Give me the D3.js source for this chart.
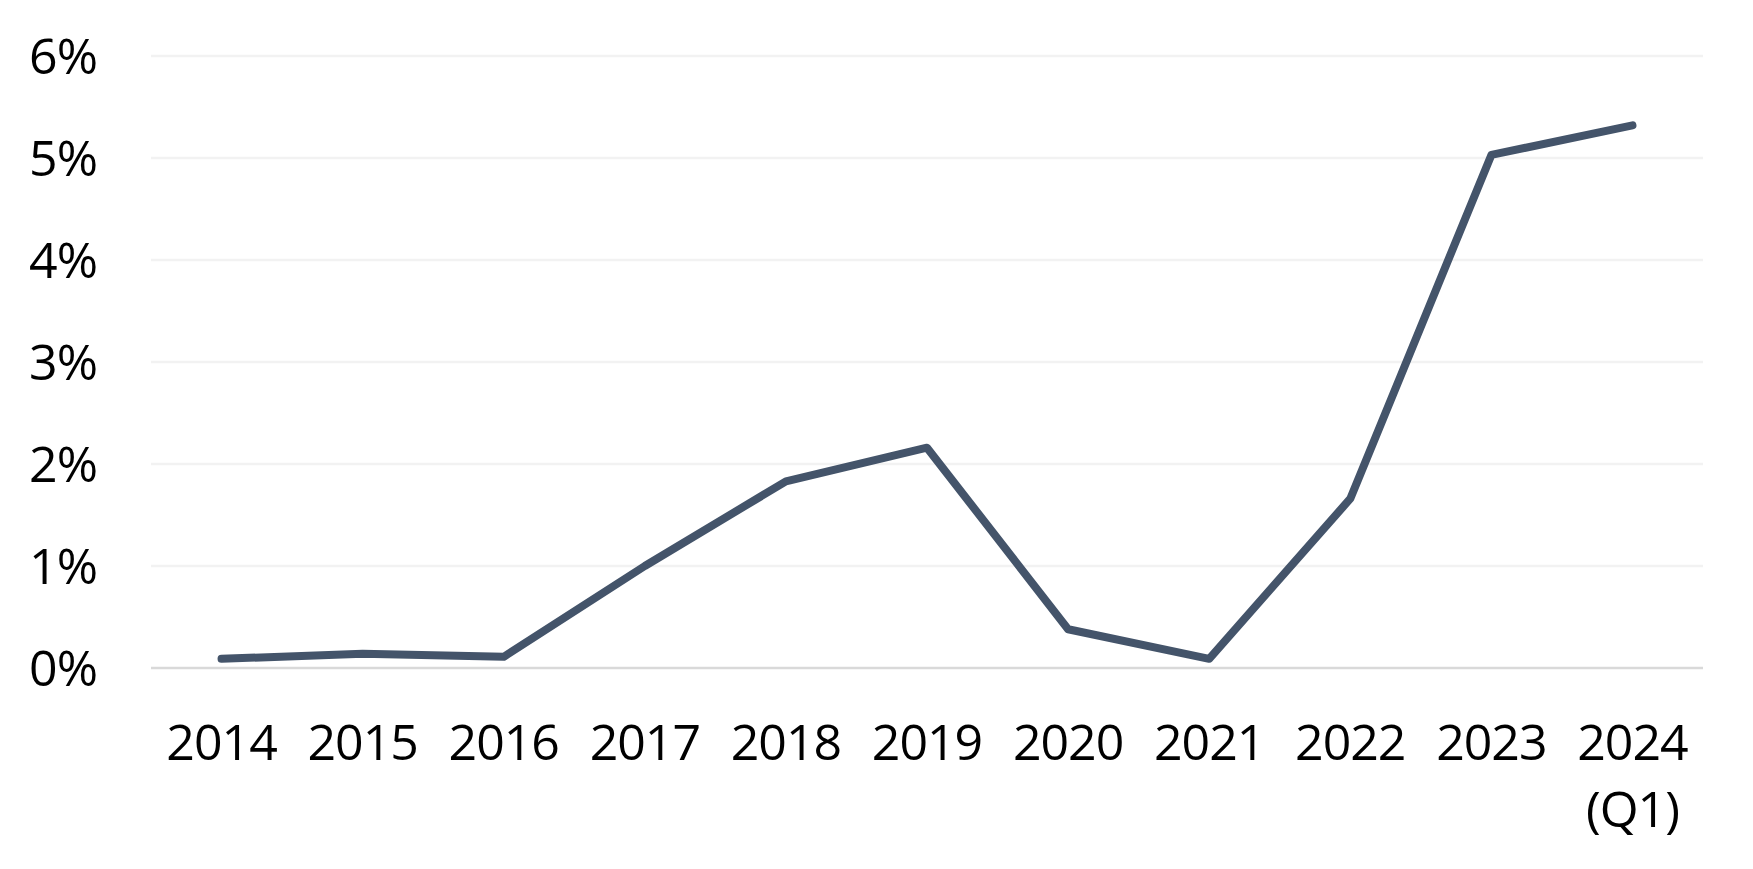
<!DOCTYPE html>
<html>
<head>
<meta charset="utf-8">
<script src="https://cdn.jsdelivr.net/npm/d3@7"></script>
<style>
    body { margin: 0; background: #ffffff; }
</style>
</head>
<body>
<div id="chart"></div>
<script>
// Data
var years = ["2014", "2015", "2016", "2017", "2018", "2019", "2020", "2021", "2022", "2023", "2024"];
var yearNotes = ["", "", "", "", "", "", "", "", "", "", "(Q1)"];
var shares = [0.09, 0.14, 0.11, 1.0, 1.83, 2.16, 0.38, 0.09, 1.66, 5.03, 5.32];
var yTicks = [0, 1, 2, 3, 4, 5, 6];

function init() {
    var w = 1753;
    var h = 869;
    var left = 151, right = 1703, top = 56, bottom = 668;

    var xScale = d3.scaleBand()
                    .domain(years)
                    .range([left, right])
                    .padding(0);

    var yScale = d3.scaleLinear()
                    .domain([0, 6])
                    .range([bottom, top]);

    var svg = d3.select("#chart")
                .append("svg")
                .attr("width", w)
                .attr("height", h)
                .style("font-family", "'Open Sans', 'Noto Sans', sans-serif");

    // Gridlines
    svg.append("g")
        .selectAll("line")
        .data(yTicks)
        .enter()
        .append("line")
        .attr("x1", left)
        .attr("x2", right)
        .attr("y1", function(d) { return yScale(d); })
        .attr("y2", function(d) { return yScale(d); })
        .attr("stroke", function(d) { return d === 0 ? "#d9d9d9" : "#f2f2f2"; })
        .attr("stroke-width", 2.5);

    // Y axis labels
    var yAxis = d3.axisLeft(yScale)
                    .tickValues(yTicks)
                    .tickFormat(function(d) { return d + "%"; })
                    .tickSize(0)
                    .tickPadding(0);
    var gy = svg.append("g")
        .attr("transform", "translate(97,0)")
        .call(yAxis);
    gy.select(".domain").remove();
    gy.selectAll("text")
        .attr("font-size", "50px")
        .attr("font-family", "'Open Sans', 'Noto Sans', sans-serif")
        .attr("letter-spacing", "-1px")
        .attr("fill", "#000000")
        .attr("dy", "0.35em");

    // X axis labels
    var xAxis = d3.axisBottom(xScale).tickSize(0).tickPadding(0);
    var gx = svg.append("g")
        .attr("transform", "translate(0," + bottom + ")")
        .call(xAxis);
    gx.select(".domain").remove();
    gx.selectAll("text").remove();
    gx.selectAll(".tick")
        .append("text")
        .attr("font-size", "50px")
        .attr("font-family", "'Open Sans', 'Noto Sans', sans-serif")
        .attr("letter-spacing", "-1px")
        .attr("fill", "#000000")
        .attr("text-anchor", "middle")
        .each(function(d, i) {
            var t = d3.select(this);
            t.append("tspan").attr("x", 0).attr("y", 92).text(d);
            if (yearNotes[i]) {
                t.append("tspan").attr("x", 0).attr("y", 159).text(yearNotes[i]);
            }
        });

    // Line
    var line = d3.line()
        .x(function(d, i) { return xScale(years[i]) + xScale.bandwidth() / 2; })
        .y(function(d) { return yScale(d); });

    svg.append("path")
        .datum(shares)
        .attr("d", line)
        .attr("fill", "none")
        .attr("stroke", "#44546a")
        .attr("stroke-width", 8)
        .attr("stroke-linecap", "round")
        .attr("stroke-linejoin", "round");
}

window.onload = init;
</script>
</body>
</html>
